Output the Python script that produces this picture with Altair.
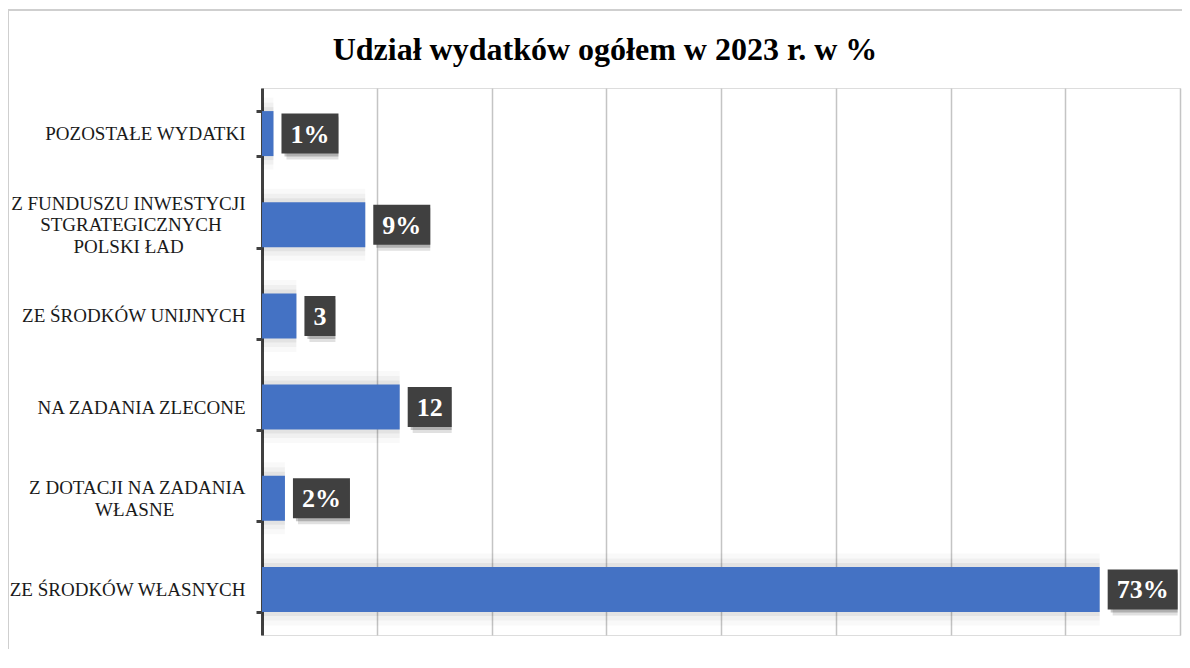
import altair as alt
import pandas as pd

# ---- data ----
categories = [
    "POZOSTAŁE WYDATKI",
    "Z FUNDUSZU INWESTYCJI|STGRATEGICZNYCH|POLSKI ŁAD",
    "ZE ŚRODKÓW UNIJNYCH",
    "NA ZADANIA ZLECONE",
    "Z DOTACJI NA ZADANIA|WŁASNE",
    "ZE ŚRODKÓW WŁASNYCH",
]
values = [1, 9, 3, 12, 2, 73]
value_labels = ["1%", "9%", "3", "12", "2%", "73%"]
title_text = "Udział wydatków ogółem w 2023 r. w %"

# trailing no-break spaces so that short wrapped lines look centred under the first line
center_pad = {"STGRATEGICZNYCH": 5, "POLSKI ŁAD": 13, "WŁASNE": 15}


def pad_lines(label):
    lines = label.split("|")
    out = []
    for l in lines:
        n = center_pad.get(l, 0)
        out.append(l + ("\u00a0" * n + "\u200b" if n else ""))
    return "|".join(out)


display_cats = [pad_lines(c) for c in categories]

df = pd.DataFrame({"cat": display_cats, "value": values, "label": value_labels})

W, H = 918, 547
XMAX = 80
ppu = W / XMAX
SERIF = "Liberation Serif"
BLUE = "#4472C4"
LH = 21.5

nlines = "(isValid(datum.value) ? length(split(datum.value, '|')) : 1)"

y_enc = alt.Y(
    "cat:N",
    sort=display_cats,
    title=None,
    scale=alt.Scale(paddingInner=0.5, paddingOuter=0.25),
    axis=alt.Axis(
        labelExpr="isValid(datum.value) ? split(datum.value, '|') : ''",
        labelFont=SERIF,
        labelFontSize=19,
        labelColor="#1a1a1a",
        labelLineHeight=LH,
        labelAlign="right",
        labelBaseline="middle",
        labelPadding=11,
        labelLimit=300,
        labelOffset={
            "condition": [
                {"test": f"{nlines} == 3", "value": -LH},
                {"test": f"{nlines} == 2", "value": -LH / 2},
            ],
            "value": 0,
        },
        domainColor="#404040",
        domainWidth=3,
        tickColor="#404040",
        tickWidth=3,
        tickSize=6,
        tickBand="extent",
    ),
)

xscale = alt.Scale(domain=[0, XMAX], nice=False)
x_enc = alt.X(
    "value:Q",
    title=None,
    scale=xscale,
    axis=alt.Axis(
        values=list(range(0, XMAX + 1, 10)),
        labels=False,
        ticks=False,
        domain=False,
        grid=True,
        gridColor="#c4c4c4",
        gridWidth=1.5,
    ),
)

base = alt.Chart(df)

glow0 = base.mark_bar(height=72, color="#000000", opacity=0.025).encode(x=x_enc, y=y_enc)
glow1 = base.mark_bar(height=62, color="#000000", opacity=0.035).encode(x=x_enc, y=y_enc)
glow2 = base.mark_bar(height=53, color="#000000", opacity=0.05).encode(x=x_enc, y=y_enc)
bars = base.mark_bar(height=45, color=BLUE).encode(x=x_enc, y=y_enc)

boxes_base = base.transform_calculate(
    wpx="18 + 26*(0.5*length(datum.label) + (indexof(datum.label, '%') >= 0 ? 0.5 : 0))"
).transform_calculate(
    bx0=f"datum.value + 8/{ppu}",
    bx1=f"datum.value + (8 + datum.wpx)/{ppu}",
    tx=f"datum.value + (8 + datum.wpx/2)/{ppu}",
)

shadow2 = boxes_base.mark_bar(height=42, color="#000000", opacity=0.12, xOffset=5, yOffset=5).encode(
    x=alt.X("bx0:Q", scale=xscale), x2="bx1:Q", y=y_enc
)
shadow1 = boxes_base.mark_bar(height=40, color="#000000", opacity=0.22, xOffset=3, yOffset=3).encode(
    x=alt.X("bx0:Q", scale=xscale), x2="bx1:Q", y=y_enc
)
boxes = boxes_base.mark_bar(height=40, color="#404040").encode(
    x=alt.X("bx0:Q", scale=xscale), x2="bx1:Q", y=y_enc
)
texts = boxes_base.mark_text(
    font=SERIF, fontSize=26, fontWeight="bold", color="white",
    align="center", baseline="middle", dy=1,
).encode(
    x=alt.X("tx:Q", scale=xscale), y=y_enc, text="label:N"
)

one = alt.Data(values=[{}])
frame = alt.Chart(one).mark_rect(fillOpacity=0, stroke="#cfcfcf", strokeWidth=2).encode(
    x=alt.value(-254), x2=alt.value(960), y=alt.value(-78), y2=alt.value(640)
)
title = alt.Chart(one).mark_text(
    text=title_text, font=SERIF, fontSize=32, fontWeight="bold", color="#000000",
    align="center", baseline="alphabetic",
).encode(x=alt.value(343), y=alt.value(-28))

chart = alt.layer(
    frame, glow0, glow1, glow2, bars, shadow2, shadow1, boxes, texts, title
).properties(
    width=W, height=H,
    padding={"left": 254, "top": 80, "right": 2, "bottom": 14},
    autosize="none",
).configure_view(stroke=None).configure_axis(labelFont=SERIF).configure(background="white")

chart.save("out.html", embed_options={"renderer": "svg", "actions": False})
